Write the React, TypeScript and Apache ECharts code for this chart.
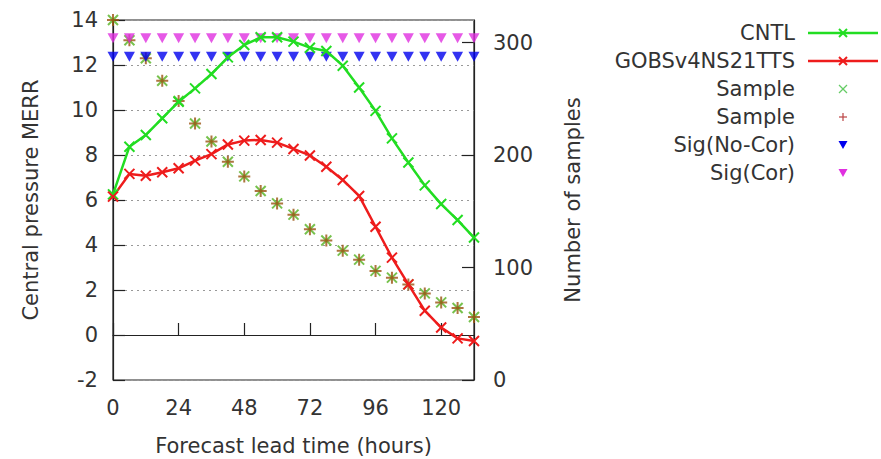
import React, { useEffect, useRef } from "react";
import * as echarts from "echarts";

const hours = [0, 6, 12, 18, 24, 30, 36, 42, 48, 54, 60, 66, 72, 78, 84, 90, 96, 102, 108, 114, 120, 126, 132];
const cntl = [6.25, 8.37, 8.89, 9.63, 10.37, 10.96, 11.6, 12.34, 12.89, 13.23, 13.23, 13.04, 12.77, 12.62, 11.97, 11.0, 9.96, 8.74, 7.67, 6.65, 5.82, 5.11, 4.33];
const gobs = [6.15, 7.16, 7.08, 7.23, 7.41, 7.75, 8.04, 8.47, 8.64, 8.67, 8.55, 8.27, 7.98, 7.48, 6.89, 6.18, 4.81, 3.44, 2.25, 1.08, 0.33, -0.15, -0.27];
const samples = [320, 302, 286, 266, 248, 228, 212, 194, 181, 168, 157, 147, 134, 124, 115, 107, 97, 91, 85, 77, 69, 64, 56];
const sigNoCor = [12.37, 12.37, 12.37, 12.37, 12.37, 12.37, 12.37, 12.37, 12.37, 12.37, 12.37, 12.37, 12.37, 12.37, 12.37, 12.37, 12.37, 12.37, 12.37, 12.37, 12.37, 12.37, 12.37];
const sigCor = [13.19, 13.19, 13.19, 13.19, 13.19, 13.19, 13.19, 13.19, 13.19, 13.19, 13.19, 13.19, 13.19, 13.19, 13.19, 13.19, 13.19, 13.19, 13.19, 13.19, 13.19, 13.19, 13.19];
const legendNames = ["CNTL", "GOBSv4NS21TTS", "Sample", "Sample", "Sig(No-Cor)", "Sig(Cor)"];

const GREEN = "#22dd22";
const RED = "#ee1c1c";
const SAMPLE_X = "#55b322";
const SAMPLE_P = "#9a5210";
const BLUE = "#0000ee";
const MAGENTA = "#e030e0";
const FONT = "DejaVu Sans";
const TXT = "#333";

const CROSS = "path://M0,0L10,10M0,10L10,0";
const PLUS = "path://M5,0L5,10M0,5L10,5";

function pair(xs: number[], ys: number[]) {
  return xs.map((x, i) => [x, ys[i]]);
}

export default function App() {
  const ref = useRef<HTMLDivElement>(null);
  useEffect(() => {
    if (!ref.current) return;
    const chart = echarts.init(ref.current, null, { renderer: "svg" });

    const rowY = [33, 61, 89, 117, 145, 173];
    const textX = 795;
    const mx = 843;
    const g: any[] = [];
    legendNames.forEach((n, i) => {
      g.push({
        type: "text",
        x: textX,
        y: rowY[i],
        style: { text: n, fill: TXT, font: `21px "${FONT}"`, textAlign: "right", textVerticalAlign: "middle" },
      });
    });
    const cross = (cx: number, cy: number, s: number, color: string, w: number) => [
      { type: "line", shape: { x1: cx - s, y1: cy - s, x2: cx + s, y2: cy + s }, style: { stroke: color, lineWidth: w } },
      { type: "line", shape: { x1: cx - s, y1: cy + s, x2: cx + s, y2: cy - s }, style: { stroke: color, lineWidth: w } },
    ];
    // CNTL
    g.push({ type: "line", shape: { x1: 808, y1: rowY[0], x2: 878, y2: rowY[0] }, style: { stroke: GREEN, lineWidth: 2.5 } });
    g.push(...cross(mx, rowY[0], 4, GREEN, 2));
    // GOBS
    g.push({ type: "line", shape: { x1: 808, y1: rowY[1], x2: 878, y2: rowY[1] }, style: { stroke: RED, lineWidth: 2.5 } });
    g.push(...cross(mx, rowY[1], 4, RED, 2));
    // Sample x
    g.push(...cross(mx, rowY[2], 4, "#66cc66", 1.2));
    // Sample +
    g.push({ type: "line", shape: { x1: mx - 4, y1: rowY[3], x2: mx + 4, y2: rowY[3] }, style: { stroke: "#bb4444", lineWidth: 1.2 } });
    g.push({ type: "line", shape: { x1: mx, y1: rowY[3] - 4, x2: mx, y2: rowY[3] + 4 }, style: { stroke: "#bb4444", lineWidth: 1.2 } });
    // triangles
    g.push({ type: "polygon", shape: { points: [[mx - 4.5, rowY[4] - 4], [mx + 4.5, rowY[4] - 4], [mx, rowY[4] + 4]] }, style: { fill: BLUE } });
    g.push({ type: "polygon", shape: { points: [[mx - 4.5, rowY[5] - 4], [mx + 4.5, rowY[5] - 4], [mx, rowY[5] + 4]] }, style: { fill: MAGENTA } });

    const axisCommon = {
      axisLine: { show: true, lineStyle: { color: "#222", width: 1.2 } },
      axisTick: { show: true, inside: true, length: 12, lineStyle: { color: "#222", width: 1.2 } },
      axisLabel: { color: TXT, fontFamily: FONT, fontSize: 21, showMaxLabel: false },
      nameTextStyle: { color: TXT, fontFamily: FONT, fontSize: 21 },
      nameLocation: "middle" as const,
    };

    chart.setOption({
      animation: false,
      backgroundColor: "#fff",
      textStyle: { fontFamily: FONT },
      grid: {
        left: 113,
        right: 407,
        top: 20,
        bottom: 79,
        show: true,
        borderColor: "#222",
        borderWidth: 1.2,
        containLabel: false,
        outerBoundsMode: "none",
      },
      xAxis: {
        type: "value",
        min: 0,
        max: 132,
        interval: 24,
        name: "Forecast lead time (hours)",
        nameGap: 55,
        ...axisCommon,
        axisLabel: { ...axisCommon.axisLabel, margin: 17 },
        splitLine: { show: false },
      },
      yAxis: [
        {
          type: "value",
          min: -2,
          max: 14,
          interval: 2,
          name: "Central pressure MERR",
          nameGap: 72,
          nameRotate: 90,
          ...axisCommon,
          axisLabel: { ...axisCommon.axisLabel, margin: 15, showMaxLabel: true },
          splitLine: { show: true, lineStyle: { color: "#999", type: [2, 4], width: 1 } },
        },
        {
          type: "value",
          min: 0,
          max: 320,
          interval: 100,
          position: "right",
          name: "Number of samples",
          nameGap: 88,
          nameRotate: 90,
          ...axisCommon,
          axisLabel: { ...axisCommon.axisLabel, margin: 19 },
          splitLine: { show: false },
        },
      ],
      series: [
        {
          name: "CNTL",
          type: "line",
          data: pair(hours, cntl),
          symbol: CROSS,
          symbolSize: 10,
          showAllSymbol: true,
          lineStyle: { color: GREEN, width: 2.5 },
          itemStyle: { color: GREEN, borderColor: GREEN, borderWidth: 2 },
        },
        {
          name: "GOBSv4NS21TTS",
          type: "line",
          data: pair(hours, gobs),
          symbol: CROSS,
          symbolSize: 10,
          showAllSymbol: true,
          lineStyle: { color: RED, width: 2.5 },
          itemStyle: { color: RED, borderColor: RED, borderWidth: 2 },
        },
        {
          name: "Sample",
          type: "scatter",
          yAxisIndex: 1,
          data: pair(hours, samples),
          symbol: CROSS,
          symbolSize: 10,
          itemStyle: { color: SAMPLE_X, borderColor: SAMPLE_X, borderWidth: 2 },
        },
        {
          name: "Sample",
          type: "scatter",
          yAxisIndex: 1,
          data: pair(hours, samples),
          symbol: PLUS,
          symbolSize: 12,
          itemStyle: { color: SAMPLE_P, borderColor: SAMPLE_P, borderWidth: 2 },
        },
        {
          name: "Sig(No-Cor)",
          type: "scatter",
          data: pair(hours, sigNoCor),
          symbol: "triangle",
          symbolRotate: 180,
          symbolSize: [11, 10],
          itemStyle: { color: BLUE },
        },
        {
          name: "Sig(Cor)",
          type: "scatter",
          data: pair(hours, sigCor),
          symbol: "triangle",
          symbolRotate: 180,
          symbolSize: [11, 10],
          itemStyle: { color: MAGENTA },
        },
      ],
      graphic: g,
    });
    return () => chart.dispose();
  }, []);
  return <div ref={ref} style={{ position: "fixed", left: 0, top: 0, width: 881, height: 459 }} />;
}
